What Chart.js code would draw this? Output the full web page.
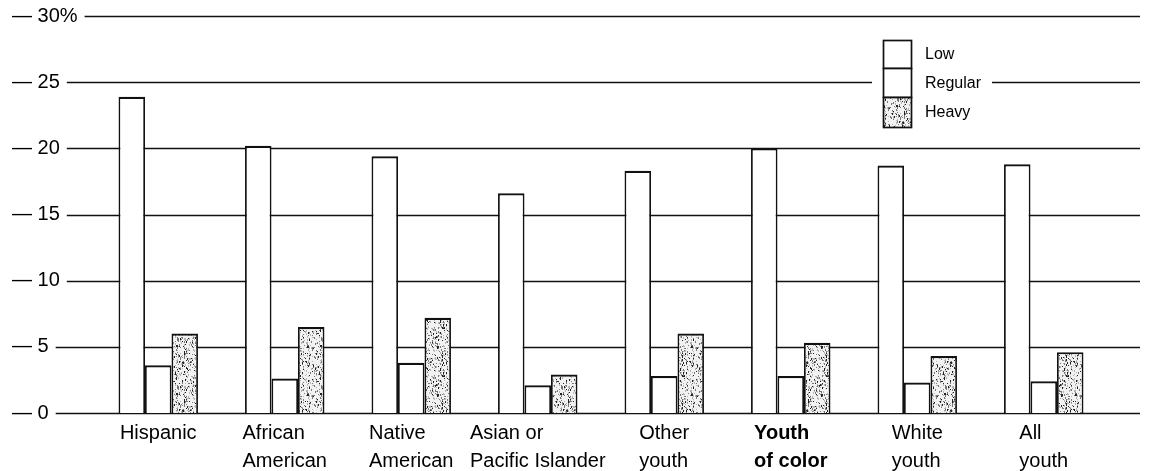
<!DOCTYPE html>
<html><head><meta charset="utf-8">
<script src="https://cdn.jsdelivr.net/npm/chart.js@4.4.1/dist/chart.umd.min.js"></script>
<style>html,body{margin:0;padding:0;background:#fff}#wrap{width:1149px;height:471px}</style>
</head><body><div id="wrap"><canvas id="c" width="1149" height="471"></canvas></div>
<script>
// ---- data ----
const categories = [['Hispanic'],['African','American'],['Native','American'],['Asian or','Pacific Islander'],['Other','youth'],['Youth','of color'],['White','youth'],['All','youth']];
const seriesNames = ['Low','Regular','Heavy'];
const lowValues     = [23.9, 20.2, 19.4, 16.6, 18.3, 20.0, 18.7, 18.8];
const regularValues = [3.6, 2.6, 3.8, 2.1, 2.8, 2.8, 2.3, 2.4];
const heavyValues   = [6.0, 6.5, 7.2, 2.9, 6.0, 5.3, 4.3, 4.6];
const yTickValues = [0, 5, 10, 15, 20, 25, 30];
const boldCategoryIndex = 5;

// ---- styling ----
const FONT = '"Liberation Sans", Arial, Helvetica, sans-serif';
Chart.defaults.font.family = FONT;
Chart.defaults.color = '#000';

function makeStipple(){
  const n = 48;
  const c = document.createElement('canvas'); c.width = n; c.height = n;
  const g = c.getContext('2d');
  g.fillStyle = '#f2f2f2'; g.fillRect(0,0,n,n);
  let s = 987654;
  const nxt = () => { s = (s * 1103515245 + 12345) & 0x7fffffff; return s / 0x7fffffff; };
  for (let i = 0; i < 520; i++) {
    const x = Math.floor(nxt()*n), y = Math.floor(nxt()*n);
    const t = nxt();
    g.fillStyle = t < 0.25 ? '#222' : (t < 0.6 ? '#777' : '#b5b5b5');
    g.fillRect(x, y, 1, nxt() < 0.45 ? 2 : 1);
  }
  return g.createPattern(c, 'repeat');
}
const stipple = makeStipple();
const fills = ['#ffffff', '#ffffff', stipple];

function tickText(v){ return '\u2014 ' + v + (v === 30 ? '%' : ''); }

const gridPlugin = {
  id: 'customGrid',
  beforeDatasetsDraw(chart){
    const ctx = chart.ctx, y = chart.scales.y;
    ctx.save();
    ctx.font = '20px ' + FONT;
    ctx.strokeStyle = '#111';
    ctx.lineWidth = 1.7;
    yTickValues.forEach(v => {
      const py = Math.round(y.getPixelForValue(v)) + 0.5;
      const x0 = y.left + ctx.measureText(tickText(v)).width + 7;
      ctx.beginPath(); ctx.moveTo(x0, py); ctx.lineTo(chart.width - 9, py); ctx.stroke();
    });
    ctx.restore();
  }
};

const labelPlugin = {
  id: 'xLabels',
  afterDraw(chart){
    const ctx = chart.ctx, xs = chart.scales.x;
    ctx.save();
    ctx.fillStyle = '#000';
    ctx.textAlign = 'left';
    ctx.textBaseline = 'alphabetic';
    categories.forEach((lines, i) => {
      ctx.font = (i === boldCategoryIndex ? 'bold ' : '') + '20px ' + FONT;
      const cx = xs.getPixelForValue(i);
      const w = Math.max(...lines.map(l => ctx.measureText(l).width));
      const x0 = cx - w / 2;
      lines.forEach((l, j) => ctx.fillText(l, x0, xs.top + 26 + j * 28));
    });
    ctx.restore();
  }
};

const legendPlugin = {
  id: 'stackLegend',
  afterDraw(chart){
    const ctx = chart.ctx;
    ctx.save();
    ctx.fillStyle = '#fff';
    ctx.fillRect(872, 34, 120, 98);
    const bx = 883, bw = 28, tops = [40, 68, 97, 127];
    chart.data.datasets.forEach((ds, i) => {
      ctx.fillStyle = fills[i];
      ctx.fillRect(bx, tops[i], bw, tops[i+1] - tops[i]);
      ctx.strokeStyle = '#111'; ctx.lineWidth = 1.7;
      ctx.strokeRect(bx + 0.5, tops[i] + 0.5, bw, tops[i+1] - tops[i]);
      ctx.fillStyle = '#000';
      ctx.font = '16px ' + FONT;
      ctx.textBaseline = 'middle';
      ctx.fillText(ds.label, 925, (tops[i] + tops[i+1]) / 2 + 1);
    });
    ctx.restore();
  }
};

const values = [lowValues, regularValues, heavyValues];
new Chart(document.getElementById('c'), {
  type: 'bar',
  data: {
    labels: categories.map(c => c.join(' ')),
    datasets: seriesNames.map((name, i) => ({
      label: name,
      data: values[i],
      backgroundColor: fills[i],
      borderColor: '#111',
      borderWidth: {top: 2.2, left: 1.8, right: 1.8, bottom: 0},
      borderSkipped: 'bottom',
      barPercentage: 1,
      categoryPercentage: 0.628
    }))
  },
  options: {
    responsive: false,
    animation: false,
    devicePixelRatio: 1,
    layout: { padding: { left: 12, right: 42, top: 16, bottom: 0 } },
    plugins: { legend: { display: false }, tooltip: { enabled: false } },
    scales: {
      x: {
        grid: { display: false },
        border: { display: false },
        ticks: { display: false },
        afterFit(scale){ scale.height = 58; }
      },
      y: {
        min: 0, max: 30,
        grid: { display: false },
        border: { display: false },
        ticks: {
          stepSize: 5,
          crossAlign: 'far',
          font: { size: 20 },
          color: '#000',
          callback: v => tickText(v)
        },
        afterFit(scale){ scale.width = 83; }
      }
    }
  },
  plugins: [gridPlugin, labelPlugin, legendPlugin]
});
</script>
</body></html>
